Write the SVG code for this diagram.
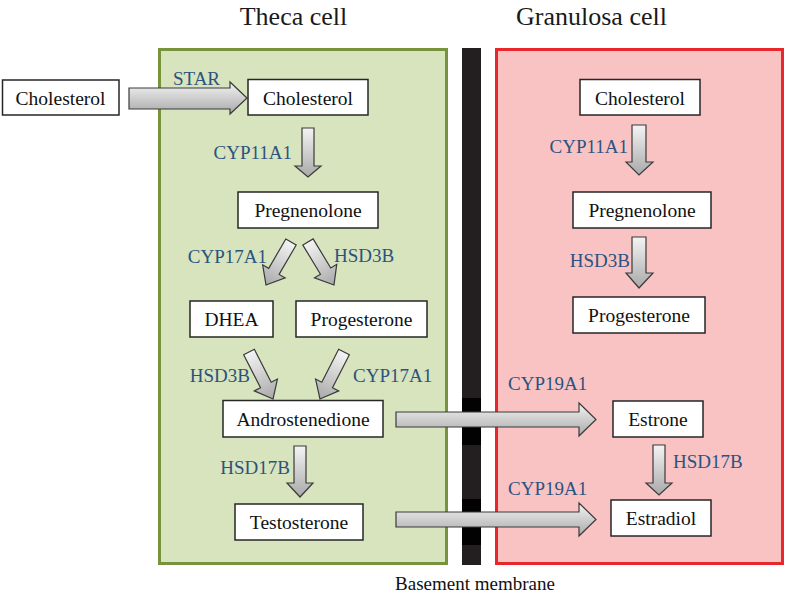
<svg xmlns="http://www.w3.org/2000/svg" width="786" height="597" viewBox="0 0 786 597">
<defs>
<linearGradient id="ag" x1="0" y1="0" x2="0" y2="1">
<stop offset="0" stop-color="#f4f4f4"/>
<stop offset="1" stop-color="#a9a9a9"/>
</linearGradient>
<style>
.nb{fill:#ffffff;stroke:#262626;stroke-width:1.5}
.nt{font-family:"Liberation Serif","Times New Roman",serif;font-size:19.5px;fill:#111;text-anchor:middle}
.lb{font-family:"Liberation Serif","Times New Roman",serif;font-size:19px;fill:#2b5380}
.ttl{font-family:"Liberation Serif","Times New Roman",serif;font-size:26px;fill:#1a1a1a;text-anchor:middle}
.ar{fill:url(#ag);stroke:#3a3a3a;stroke-width:1.2;stroke-linejoin:miter}
</style>
</defs>
<rect width="786" height="597" fill="#ffffff"/>
<text class="ttl" x="293.5" y="25">Theca cell</text>
<text class="ttl" x="591.5" y="25">Granulosa cell</text>
<g id="theca-cell">
<rect x="159.5" y="49.5" width="287" height="514" fill="#d7e4bd" stroke="#77933c" stroke-width="3"/>
</g>
<g id="granulosa-cell">
<rect x="496.5" y="49.5" width="286" height="514" fill="#f9c3c4" stroke="#e8262b" stroke-width="3"/>
</g>
<g id="basement-membrane">
<rect x="462" y="48" width="19" height="517" fill="#231f20"/>
<rect x="462" y="398" width="19" height="47" fill="#020202"/>
<rect x="462" y="499" width="19" height="46" fill="#020202"/>
<text class="nt" x="475" y="590" style="font-size:19px">Basement membrane</text>
</g>
<g id="connectors">
<polygon class="ar" points="129,88 230,88 230,82 247,98 230,114 230,109 129,109"/>
<polygon class="ar" points="302,128 314,128 314,166 321,166 308,177 295,166 302,166"/>
<polygon class="ar" points="294,446 306,446 306,483 313,483 300,497 287,483 294,483"/>
<polygon class="ar" points="632,125 646,125 646,162 653,162 639,175 626,162 632,162"/>
<polygon class="ar" points="632,237 646,237 646,273 653,273 639,288 626,273 632,273"/>
<polygon class="ar" points="653,445 665,445 665,483 672,483 659,495 646,483 653,483"/>
<polygon class="ar" points="396,412 579,412 579,403 596,419.5 579,436 579,427 396,427"/>
<polygon class="ar" points="396,512 579,512 579,503 596,519.5 579,536 579,527 396,527"/>
<polygon class="ar" transform="translate(291,242) rotate(30.2)" points="-6,0 6,0 6,34 13,34 0,49.7 -13,34 -6,34"/>
<polygon class="ar" transform="translate(308,242) rotate(-31.2)" points="-6,0 6,0 6,34 13,34 0,50.2 -13,34 -6,34"/>
<polygon class="ar" transform="translate(249,352) rotate(-27.1)" points="-6,0 6,0 6,37 13,37 0,52.8 -13,37 -6,37"/>
<polygon class="ar" transform="translate(344,352) rotate(27.1)" points="-6,0 6,0 6,37 13,37 0,52.8 -13,37 -6,37"/>
<text class="lb" x="173" y="85">STAR</text>
<text class="lb" x="292" y="159" text-anchor="end">CYP11A1</text>
<text class="lb" x="267" y="263" text-anchor="end">CYP17A1</text>
<text class="lb" x="334" y="262">HSD3B</text>
<text class="lb" x="250" y="382" text-anchor="end">HSD3B</text>
<text class="lb" x="353" y="382">CYP17A1</text>
<text class="lb" x="290" y="474" text-anchor="end">HSD17B</text>
<text class="lb" x="628" y="153" text-anchor="end">CYP11A1</text>
<text class="lb" x="630" y="267" text-anchor="end">HSD3B</text>
<text class="lb" x="508" y="390">CYP19A1</text>
<text class="lb" x="508" y="495">CYP19A1</text>
<text class="lb" x="673" y="468">HSD17B</text>
</g>
<g id="cholesterol-outside"><rect class="nb" x="2.5" y="80" width="116.5" height="35"/><text class="nt" x="60.5" y="104.5">Cholesterol</text></g>
<g id="cholesterol-theca"><rect class="nb" x="248" y="79.5" width="120" height="35.5"/><text class="nt" x="308" y="104.5">Cholesterol</text></g>
<g id="pregnenolone-theca"><rect class="nb" x="238" y="192" width="140" height="36"/><text class="nt" x="308" y="217">Pregnenolone</text></g>
<g id="dhea"><rect class="nb" x="190" y="301" width="83" height="36"/><text class="nt" x="231.5" y="326">DHEA</text></g>
<g id="progesterone-theca"><rect class="nb" x="296" y="301" width="131" height="36"/><text class="nt" x="361.5" y="326">Progesterone</text></g>
<g id="androstenedione"><rect class="nb" x="223" y="400.5" width="160" height="36.5"/><text class="nt" x="303" y="425.5">Androstenedione</text></g>
<g id="testosterone"><rect class="nb" x="235" y="504" width="128" height="36"/><text class="nt" x="299" y="529">Testosterone</text></g>
<g id="cholesterol-granulosa"><rect class="nb" x="580" y="79.5" width="120" height="35.5"/><text class="nt" x="640" y="104.5">Cholesterol</text></g>
<g id="pregnenolone-granulosa"><rect class="nb" x="573" y="192" width="138" height="36"/><text class="nt" x="642" y="217">Pregnenolone</text></g>
<g id="progesterone-granulosa"><rect class="nb" x="573" y="297" width="132" height="36"/><text class="nt" x="639" y="322">Progesterone</text></g>
<g id="estrone"><rect class="nb" x="613" y="401" width="90" height="36"/><text class="nt" x="658" y="426">Estrone</text></g>
<g id="estradiol"><rect class="nb" x="611" y="500" width="100" height="36"/><text class="nt" x="661" y="525">Estradiol</text></g>
</svg>
